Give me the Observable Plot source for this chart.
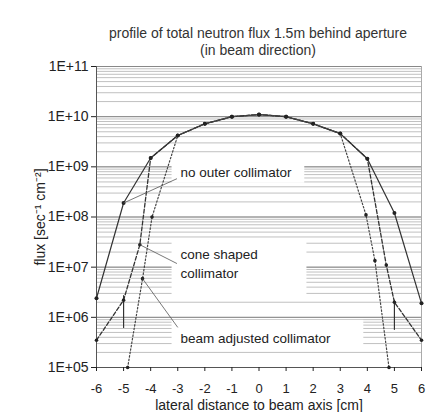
<!DOCTYPE html>
<html><head><meta charset="utf-8">
<script src="https://cdn.jsdelivr.net/npm/d3@7"></script>
<script src="https://cdn.jsdelivr.net/npm/@observablehq/plot@0.6"></script>
<style>
body{margin:0;background:#fff;font-family:"Liberation Sans",Arial,sans-serif;color:#222;}
#title{height:58px;box-sizing:border-box;padding-top:25px;padding-left:75px;text-align:center;font-size:14px;line-height:17px;color:#333;}
</style></head><body>
<div id="title">profile of total neutron flux 1.5m behind aperture<br>(in beam direction)</div>
<div id="chart"></div>
<script>
// axis ticks
const xTicks = [-6,-5,-4,-3,-2,-1,0,1,2,3,4,5,6];
const yTicks = [1e5,1e6,1e7,1e8,1e9,1e10,1e11];

// series: no outer collimator (solid)
const noOuterX    = [-6, -5, -4, -3, -2, -1, 0, 1, 2, 3, 4, 5, 6];
const noOuterFlux = [2.4e6, 1.9e8, 1.5e9, 4.2e9, 7.2e9, 1.0e10, 1.1e10, 1.0e10, 7.2e9, 4.6e9, 1.45e9, 1.2e8, 1.9e6];

// series: cone shaped collimator (dashed)
const coneX    = [-6, -5, -4.4, -4, -3, -2, -1, 0, 1, 2, 3, 4, 4.7, 5, 6];
const coneFlux = [3.5e5, 2.2e6, 2.8e7, 1.5e9, 4.2e9, 7.2e9, 1.0e10, 1.1e10, 1.0e10, 7.2e9, 4.6e9, 1.45e9, 1.1e7, 2.0e6, 3.5e5];

// series: beam adjusted collimator (dotted)
const beamX    = [-4.85, -4.3, -3.95, -3, -2, -1, 0, 1, 2, 3, 3.95, 4.28, 4.8];
const beamFlux = [1e5, 5.9e6, 1.0e8, 4.2e9, 7.2e9, 1.0e10, 1.1e10, 1.0e10, 7.2e9, 4.6e9, 1.1e8, 1.35e7, 1e5];

// error bars
const errX    = [-5, 5];
const errLow  = [6e5, 5.5e5];
const errHigh = [2.7e6, 2.2e6];

// annotation labels
const labelText = ["no outer collimator", "cone shaped", "collimator", "beam adjusted collimator"];
const labelX    = [-2.9, -2.9, -2.9, -2.9];
const labelY    = [7.6e8, 1.78e7, 7.4e6, 3.8e5];

// leader lines
const leadFromX = [-3.03, -3.03, -3.0];
const leadFromY = [5.8e8, 1.18e7, 6.3e5];
const leadToX   = [-5, -4.4, -4.3];
const leadToY   = [1.9e8, 2.8e7, 5.9e6];

// white label boxes
const boxX1 = [-3.21, -3.21, -3.21];
const boxX2 = [1.69, 1.77, 3.87];
const boxY1 = [4.7e8, 2.7e6, 2.3e5];
const boxY2 = [1.6e9, 3.4e7, 8.7e5];

const toRows = (xs, ys) => xs.map((x, i) => ({x, flux: ys[i]}));
const noOuter = toRows(noOuterX, noOuterFlux);
const cone = toRows(coneX, coneFlux);
const beam = toRows(beamX, beamFlux);
const errs = errX.map((x, i) => ({x, lo: errLow[i], hi: errHigh[i]}));
const labels = labelText.map((t, i) => ({t, x: labelX[i], y: labelY[i]}));
const leads = leadFromX.map((x, i) => ({x1: x, y1: leadFromY[i], x2: leadToX[i], y2: leadToY[i]}));
const boxes = boxX1.map((x, i) => ({x1: x, x2: boxX2[i], y1: boxY1[i], y2: boxY2[i]}));

const fmtY = d => "1E+" + String(Math.round(Math.log10(d))).padStart(2, "0");

const chart = Plot.plot({
  width: 441, height: 354,
  marginTop: 8, marginBottom: 45, marginLeft: 96, marginRight: 20,
  style: {fontFamily: "'Liberation Sans', Arial, sans-serif", fontSize: "14px", color: "#222", background: "white"},
  x: {domain: [-6, 6]},
  y: {type: "log", domain: [1e5, 1e11]},
  marks: [
    Plot.gridY({ticks: 10, stroke: "#c0c0c0", strokeOpacity: 1}),
    Plot.gridY(yTicks, {stroke: "#888", strokeOpacity: 1}),
    Plot.rect(boxes, {x1: "x1", x2: "x2", y1: "y1", y2: "y2", fill: "white"}),
    Plot.ruleX([6], {stroke: "#aaa"}),
    Plot.ruleX([-6], {stroke: "#555"}),
    Plot.ruleY([1e5], {stroke: "#555"}),
    Plot.axisX({ticks: xTicks, tickFormat: d => String(d), tickSize: 4, tickPadding: 12, fontSize: 13}),
    Plot.axisX({ticks: [], label: "lateral distance to beam axis [cm]", labelAnchor: "center", labelArrow: "none", labelOffset: 42, fontSize: 14}),
    Plot.axisY({ticks: yTicks, tickFormat: fmtY, tickSize: 5, tickPadding: 3,
      label: "flux [sec⁻¹ cm⁻²]", labelAnchor: "center", labelArrow: "none", labelOffset: 61}),
    Plot.ruleX(errs, {x: "x", y1: "lo", y2: "hi", stroke: "#333", strokeWidth: 1.2}),
    Plot.line(noOuter, {x: "x", y: "flux", stroke: "#333", strokeWidth: 1.2}),
    Plot.line(cone, {x: "x", y: "flux", stroke: "#333", strokeWidth: 1.3, strokeDasharray: "4,2"}),
    Plot.line(beam, {x: "x", y: "flux", stroke: "#444", strokeWidth: 1.2, strokeDasharray: "1.5,2"}),
    Plot.dot(noOuter, {x: "x", y: "flux", r: 2, fill: "#222"}),
    Plot.dot(cone, {x: "x", y: "flux", r: 1.8, fill: "#222"}),
    Plot.dot(beam, {x: "x", y: "flux", r: 1.8, fill: "#222"}),
    Plot.link(leads, {x1: "x1", y1: "y1", x2: "x2", y2: "y2", stroke: "#555", strokeWidth: 0.8}),
    Plot.text(labels, {x: "x", y: "y", text: "t", textAnchor: "start", fontSize: 13.5, fill: "#222"})
  ]
});
document.getElementById("chart").appendChild(chart);
</script>
</body></html>
